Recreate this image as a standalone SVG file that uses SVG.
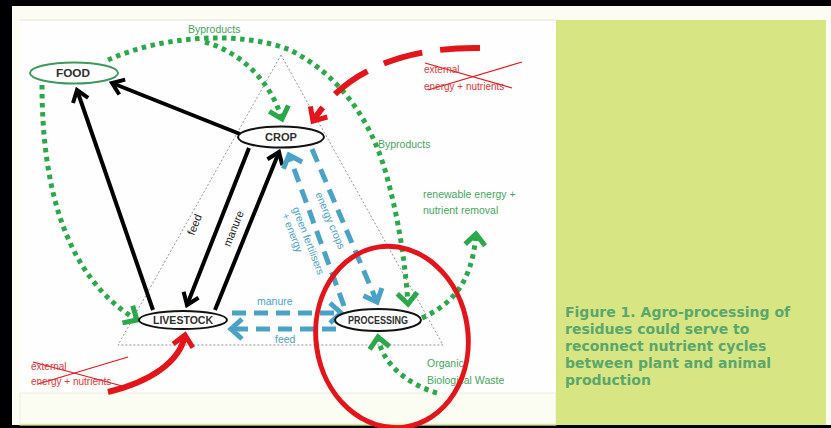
<svg xmlns="http://www.w3.org/2000/svg" width="831" height="428" viewBox="0 0 831 428">
<style>
.lbl{font-family:"Liberation Sans",Arial,sans-serif;}
.node text{font-family:"Liberation Sans",Arial,sans-serif;font-weight:bold;font-size:10px;fill:#2e2e2e;text-anchor:middle;}
.green{fill:#45a65c;font-size:10.5px;}
.blue{fill:#4aa2c6;font-size:10.5px;}
.blk{fill:#222;font-size:11px;}
.redt{fill:#e0383c;font-size:10px;}
.cap{font-family:"DejaVu Sans",Verdana,sans-serif;font-weight:bold;font-size:14px;fill:#5aa66c;}
.k{fill:none;stroke:#000;stroke-width:4;}
.b{fill:none;stroke:#4aa2c6;stroke-width:5;stroke-dasharray:14 8;}
.g{fill:none;stroke:#2ba84a;stroke-width:5;stroke-dasharray:4.5 4.5;}
.r{fill:none;stroke:#e3151a;}
.tri{fill:none;stroke:#8a8a8a;stroke-width:0.9;stroke-dasharray:2 2;}
</style>
<defs>
<marker id="ak" markerUnits="userSpaceOnUse" viewBox="-16 -12 20 24" refX="0" refY="0" markerWidth="20" markerHeight="24" orient="auto"><path d="M-11,-8 L0,0 L-11,8" fill="none" stroke="#000" stroke-width="4"/></marker>
<marker id="ab" markerUnits="userSpaceOnUse" viewBox="-16 -14 20 28" refX="0" refY="0" markerWidth="20" markerHeight="28" orient="auto"><path d="M-11,-10 L0,0 L-11,10" fill="none" stroke="#4aa2c6" stroke-width="5"/></marker>
<marker id="ag" markerUnits="userSpaceOnUse" viewBox="-16 -14 20 28" refX="0" refY="0" markerWidth="20" markerHeight="28" orient="auto"><path d="M-11,-10 L0,0 L-11,10" fill="none" stroke="#2ba84a" stroke-width="5"/></marker>
<marker id="ar" markerUnits="userSpaceOnUse" viewBox="-16 -14 20 28" refX="0" refY="0" markerWidth="20" markerHeight="28" orient="auto"><path d="M-11,-10 L0,0 L-11,10" fill="none" stroke="#e3151a" stroke-width="5"/></marker>
</defs>
<rect x="0" y="0" width="831" height="428" fill="#000"/>
<rect x="12" y="6" width="819" height="419" fill="#fcfcf3"/>
<rect x="20" y="20" width="536" height="373" fill="#fefefe"/>
<line x1="20" y1="20" x2="556" y2="20" stroke="#e4e4d6" stroke-width="1"/>
<rect x="20" y="393" width="536" height="32" fill="#fbfcf2" stroke="#eceedc" stroke-width="1"/>
<line x1="20" y1="424.5" x2="556" y2="424.5" stroke="#dbe79a" stroke-width="1.5"/>
<rect x="556" y="20" width="270" height="405" fill="#d7e683"/>
<g id="caption">
<text class="cap" x="565" y="317">Figure 1. Agro-processing of</text>
<text class="cap" x="565" y="334">residues could serve to</text>
<text class="cap" x="565" y="351">reconnect nutrient cycles</text>
<text class="cap" x="565" y="368">between plant and animal</text>
<text class="cap" x="565" y="385">production</text>
</g>
<polygon class="tri" points="281,55 118,345 443,345"/>
<g id="connectors">
<path class="k" d="M240,134 L112,83" marker-end="url(#ak)"/>
<path class="k" d="M153,310 L77,90" marker-end="url(#ak)"/>
<path class="k" d="M249,148 L187,305" marker-end="url(#ak)"/>
<path class="k" d="M215,310 L279,152" marker-end="url(#ak)"/>
<path class="b" d="M344,306 L289,155" marker-end="url(#ab)"/>
<path class="b" d="M312,149 L377,302" marker-end="url(#ab)"/>
<path class="b" d="M232,313 L341,313" marker-end="url(#ab)"/>
<path class="b" d="M336,329 L231,329" marker-end="url(#ab)"/>
<path class="g" d="M108,60 C160,36 240,30 290,50 C340,75 370,120 385,170 C398,215 405,260 408,304" marker-end="url(#ag)"/>
<path class="g" d="M205,42 C240,52 270,80 282,119" marker-end="url(#ag)"/>
<path class="g" d="M42,85 C42,180 62,275 137,320" marker-end="url(#ag)"/>
<path class="g" d="M422,318 C450,305 472,285 476,234" marker-end="url(#ag)"/>
<path class="g" d="M437,393 C410,385 382,365 378,337" marker-end="url(#ag)"/>
<path class="r" d="M480,48 C420,47 350,62 313,121" stroke-width="6" stroke-dasharray="40 18" marker-end="url(#ar)"/>
<path class="r" d="M108,392 C150,382 180,362 185,335" stroke-width="6" marker-end="url(#ar)"/>
<line x1="425" y1="63" x2="512" y2="88" stroke="#e3151a" stroke-width="1.2"/>
<line x1="522" y1="62" x2="428" y2="90" stroke="#e3151a" stroke-width="1.2"/>
<line x1="33" y1="362" x2="126" y2="387" stroke="#e3151a" stroke-width="1.2"/>
<line x1="128" y1="357" x2="38" y2="384" stroke="#e3151a" stroke-width="1.2"/>
</g>
<g id="labels">
<text class="lbl green" x="188" y="33">Byproducts</text>
<text class="lbl green" x="378" y="148">Byproducts</text>
<text class="lbl green" x="423" y="198">renewable energy +</text>
<text class="lbl green" x="423" y="214">nutrient removal</text>
<text class="lbl green" x="427" y="367">Organic</text>
<text class="lbl green" x="427" y="384">Biological Waste</text>
<text class="lbl redt" x="424" y="73">external</text>
<text class="lbl redt" x="424" y="90">energy + nutrients</text>
<text class="lbl redt" x="31" y="370">external</text>
<text class="lbl redt" x="31" y="385">energy + nutrients</text>
<text class="lbl blue" x="257" y="305">manure</text>
<text class="lbl blue" x="275" y="343">feed</text>
<text class="lbl blk" text-anchor="middle" transform="translate(198,226) rotate(-68)">feed</text>
<text class="lbl blk" text-anchor="middle" transform="translate(237,230) rotate(-68)">manure</text>
<text class="lbl blue" text-anchor="middle" transform="translate(305,242) rotate(69)">green fertilisers</text>
<text class="lbl blue" text-anchor="middle" transform="translate(289,234) rotate(69)">+ energy</text>
<text class="lbl blue" text-anchor="middle" transform="translate(327,222) rotate(67)">energy crops</text>
</g>
<g id="food" class="node"><ellipse cx="74" cy="73" rx="44" ry="10.5" fill="#fff" stroke="#3d9a5c" stroke-width="2"/><text x="73" y="77" textLength="34" lengthAdjust="spacingAndGlyphs">FOOD</text></g>
<g id="crop" class="node"><ellipse cx="281" cy="137" rx="43" ry="10.5" fill="#fff" stroke="#111" stroke-width="2"/><text x="281" y="141" textLength="32" lengthAdjust="spacingAndGlyphs">CROP</text></g>
<g id="livestock" class="node"><ellipse cx="183" cy="320" rx="44" ry="9" fill="#fff" stroke="#111" stroke-width="2"/><text x="183" y="324" textLength="60" lengthAdjust="spacingAndGlyphs">LIVESTOCK</text></g>
<g id="processing" class="node"><ellipse cx="378" cy="320" rx="43" ry="11" fill="#fff" stroke="#111" stroke-width="2"/><text x="378" y="324" textLength="60" lengthAdjust="spacingAndGlyphs">PROCESSING</text></g>
<ellipse id="highlight" cx="392" cy="337" rx="76" ry="91" transform="rotate(-8 392 337)" fill="none" stroke="#e3151a" stroke-width="5"/>
</svg>
